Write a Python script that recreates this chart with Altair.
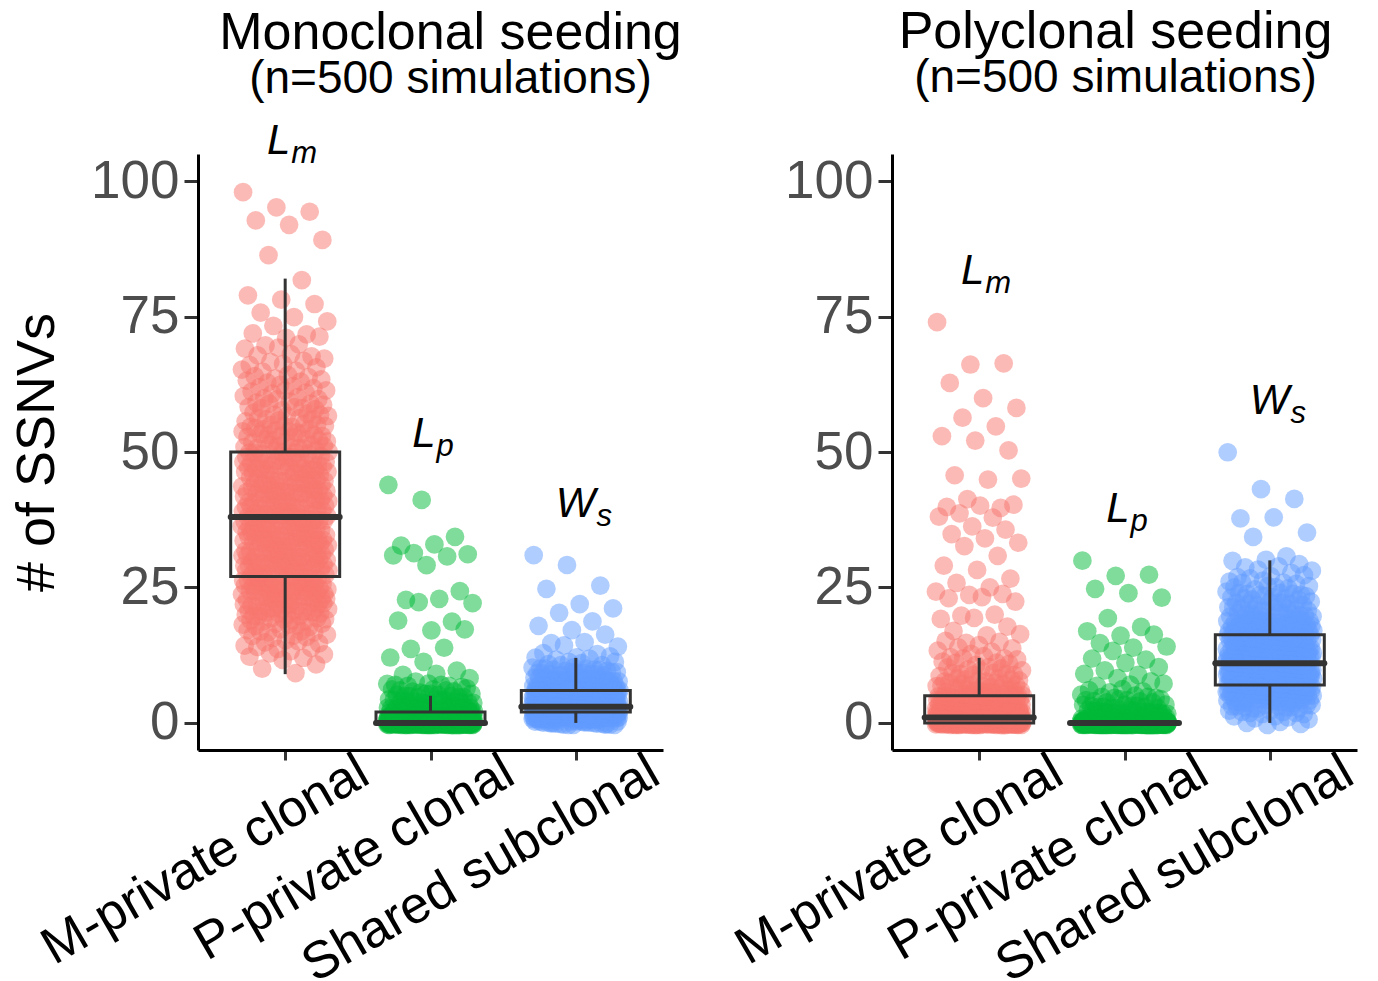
import altair as alt
import pandas as pd

PANELS = ["Monoclonal seeding", "Polyclonal seeding"]
SUBTITLE = "(n=500 simulations)"
CATEGORIES = ["M-private clonal", "P-private clonal", "Shared subclonal"]
COLORS = ["#F8766D", "#00BA38", "#619CFF"]
ANNOT_MAIN = ["L", "L", "W"]
ANNOT_SUB = ["m", "p", "s"]
Y_TICKS = [0, 25, 50, 75, 100]
Y_TITLE = "# of SSNVs"

# value -> number of simulations, 500 per group
mono_m = {9: 1, 10: 1, 11: 1, 12: 3, 13: 3, 14: 4, 15: 4, 16: 5, 17: 6, 18: 7, 19: 8,
          20: 9, 21: 10, 22: 11, 23: 12, 24: 13, 25: 13, 26: 13,
          27: 11, 28: 11, 29: 11, 30: 12, 31: 12, 32: 11, 33: 11, 34: 12, 35: 11, 36: 12, 37: 11,
          38: 11, 39: 11, 40: 11, 41: 11, 42: 10, 43: 11, 44: 10, 45: 10, 46: 10, 47: 10, 48: 10, 49: 9,
          50: 9, 51: 9, 52: 7, 53: 8, 54: 7, 55: 7, 56: 6, 57: 6, 58: 6, 59: 5,
          60: 5, 61: 5, 62: 4, 63: 4, 64: 4, 65: 3, 66: 3, 67: 3, 68: 3, 69: 2,
          70: 2, 71: 2, 72: 2, 73: 1, 74: 1, 75: 1, 76: 1, 77: 1, 78: 1, 79: 1,
          82: 1, 86: 1, 89: 1, 92: 1, 93: 1, 94: 1, 95: 1, 98: 1}
mono_p = {0: 260, 1: 114, 2: 35, 3: 22, 4: 15, 5: 11, 6: 8, 7: 7, 8: 2, 9: 2, 10: 1, 11: 1,
          12: 1, 14: 2, 17: 2, 19: 2, 22: 2, 23: 2, 24: 1, 29: 1, 31: 4, 33: 2, 34: 1,
          41: 1, 44: 1}
mono_s = {0: 25, 1: 70, 2: 85, 3: 80, 4: 60, 5: 45, 6: 35, 7: 28, 8: 20, 9: 14, 10: 10,
          11: 6, 12: 5, 13: 2, 14: 2, 15: 2, 16: 1, 17: 1, 18: 1, 19: 1, 20: 1, 21: 1,
          22: 1, 25: 2, 29: 1, 31: 1}
poly_m = {0: 160, 1: 100, 2: 50, 3: 35, 4: 25, 5: 20, 6: 12, 7: 10, 8: 8, 9: 7, 10: 6,
          11: 5, 12: 5, 13: 3, 14: 3, 15: 3, 16: 2, 17: 1, 18: 1, 19: 2, 20: 2, 22: 1,
          23: 2, 24: 3, 25: 1, 26: 1, 27: 1, 28: 1, 29: 1, 31: 1, 33: 2, 34: 1, 35: 1,
          36: 2, 38: 2, 39: 1, 40: 4, 41: 1, 45: 2, 46: 1, 50: 1, 52: 1, 53: 1, 55: 1,
          56: 1, 58: 1, 60: 1, 63: 1, 66: 2, 74: 1}
poly_p = {0: 390, 1: 35, 2: 18, 3: 12, 4: 8, 5: 6, 6: 4, 7: 3, 8: 2, 9: 2, 10: 2,
          11: 1, 12: 2, 13: 1, 14: 2, 15: 1, 16: 2, 17: 1, 18: 1, 19: 1, 23: 1, 24: 1,
          25: 1, 27: 2, 30: 1}
poly_s = {0: 4, 1: 5, 2: 8, 3: 12, 4: 16, 5: 20, 6: 25, 7: 36, 8: 30, 9: 32, 10: 32,
          11: 32, 12: 28, 13: 26, 14: 24, 15: 22, 16: 23, 17: 18, 18: 16, 19: 14, 20: 12,
          21: 10, 22: 9, 23: 8, 24: 7, 25: 6, 26: 5, 27: 4, 28: 3, 29: 3, 30: 2, 31: 1,
          34: 1, 35: 1, 38: 2, 41: 1, 43: 1, 50: 1}

GROUPS = [[mono_m, mono_p, mono_s], [poly_m, poly_p, poly_s]]

rows = []
for pi, pname in enumerate(PANELS):
    for ci, cat in enumerate(CATEGORIES):
        rn = 0
        for v, n in GROUPS[pi][ci].items():
            for _ in range(n):
                rn += 1
                rows.append({"panel": pname, "cat": cat, "idx": ci + 1, "value": v,
                             "rn": rn, "main": ANNOT_MAIN[ci], "sub": ANNOT_SUB[ci]})
df = pd.DataFrame(rows)

FONT = "Liberation Sans"
DARK = "#333333"

label_expr = " : ".join(
    [f"datum.value == {i + 1} ? '{c}'" for i, c in enumerate(CATEGORIES[:-1])]
) + f" : '{CATEGORIES[-1]}'"

xscale = alt.Scale(domain=[0.4, 3.6], nice=False, zero=False)
yscale = alt.Scale(domain=[-5, 105], nice=False, zero=False)


def panel(pi):
    pname = PANELS[pi]
    src = alt.Chart(df).transform_filter(alt.datum.panel == pname)

    xaxis = alt.Axis(values=[1, 2, 3], labelExpr=label_expr, labelAngle=330,
                     labelAlign="right", labelBaseline="top", labelFont=FONT,
                     labelFontSize=52, labelColor="black", labelOffset=66,
                     labelPadding=-14, labelLimit=1000, tickSize=10, tickWidth=3,
                     tickColor=DARK, domainColor="black", domainWidth=3, grid=False,
                     title=None, labelOverlap=False, labelBound=False, labelFlush=False)
    yaxis = alt.Axis(values=Y_TICKS, labelFont=FONT, labelFontSize=53,
                     labelColor="#4D4D4D", labelPadding=5, tickSize=14, tickWidth=3,
                     tickColor=DARK, domainColor="black", domainWidth=3, grid=False,
                     title=Y_TITLE if pi == 0 else None, titleFont=FONT,
                     titleFontSize=54, titleFontWeight="normal", titleColor="black",
                     titlePadding=26)

    stats = (src
             .transform_joinaggregate(q1="q1(value)", q3="q3(value)", med="median(value)",
                                      groupby=["cat"])
             .transform_calculate(lo="datum.q1 - 1.5 * (datum.q3 - datum.q1)",
                                  hi="datum.q3 + 1.5 * (datum.q3 - datum.q1)")
             .transform_filter("datum.value >= datum.lo && datum.value <= datum.hi")
             .transform_aggregate(wlo="min(value)", whi="max(value)", q1="min(q1)",
                                  q3="min(q3)", med="min(med)", idx="min(idx)",
                                  groupby=["cat"])
             .transform_calculate(xl="datum.idx - 0.375", xr="datum.idx + 0.375"))

    box_fill = stats.mark_rect(fill="white").encode(
        x=alt.X("xl:Q", scale=xscale, axis=xaxis), x2="xr:Q",
        y=alt.Y("q1:Q", scale=yscale, axis=yaxis), y2="q3:Q")

    pts = (src
           .transform_calculate(
               xj="datum.idx + ((datum.rn * 0.6180339887) % 1 - 0.5) * 0.6",
               yj="datum.value + ((datum.rn * 0.7548776662) % 1 - 0.5) * 0.8")
           .mark_circle(size=350, opacity=0.5)
           .encode(x=alt.X("xj:Q", scale=xscale, axis=xaxis),
                   y=alt.Y("yj:Q", scale=yscale, axis=yaxis),
                   color=alt.Color("cat:N", scale=alt.Scale(domain=CATEGORIES, range=COLORS),
                                   legend=None)))

    whisk_hi = stats.mark_rule(color=DARK, strokeWidth=3).encode(
        x="idx:Q", y="q3:Q", y2="whi:Q")
    whisk_lo = stats.mark_rule(color=DARK, strokeWidth=3).encode(
        x="idx:Q", y="wlo:Q", y2="q1:Q")
    box_line = stats.mark_rect(fillOpacity=0, stroke=DARK, strokeWidth=3).encode(
        x="xl:Q", x2="xr:Q", y="q1:Q", y2="q3:Q")
    median = stats.mark_rule(color=DARK, strokeWidth=6, strokeCap="round").encode(
        x="xl:Q", x2="xr:Q", y="med:Q")

    ann = (src
           .transform_aggregate(top="max(value)", groupby=["cat", "idx", "main", "sub"])
           .transform_calculate(ya="datum.top + 7",
                                xa="datum.idx + (datum.main == 'W' ? 0.135 : 0.035)"))
    ann_main = ann.mark_text(font=FONT, fontStyle="italic", fontSize=42, align="right",
                             baseline="alphabetic", color="black").encode(
        x="xa:Q", y="ya:Q", text="main:N")
    ann_sub = ann.mark_text(font=FONT, fontStyle="italic", fontSize=31, align="left",
                            baseline="alphabetic", dy=9, dx=1, color="black").encode(
        x="xa:Q", y="ya:Q", text="sub:N")

    title = alt.TitleParams(text=pname, subtitle=SUBTITLE, font=FONT, fontSize=52,
                            fontWeight="normal", color="black", subtitleFont=FONT,
                            subtitleFontSize=46, subtitleColor="black",
                            subtitlePadding=-3, anchor="middle",
                            dx=20 if pi == 0 else -9, offset=17 if pi == 0 else 52)

    return alt.layer(box_fill, pts, whisk_hi, whisk_lo, box_line, median,
                     ann_main, ann_sub).properties(width=465, height=596, title=title)


chart = (alt.hconcat(panel(0), panel(1), spacing=44)
         .properties(padding={"left": 2, "top": -2, "right": 0, "bottom": -7},
                     background="white")
         .configure_view(stroke="transparent", strokeWidth=0, strokeOpacity=0))

chart.save("out.html", embed_options={"renderer": "svg", "actions": False})
